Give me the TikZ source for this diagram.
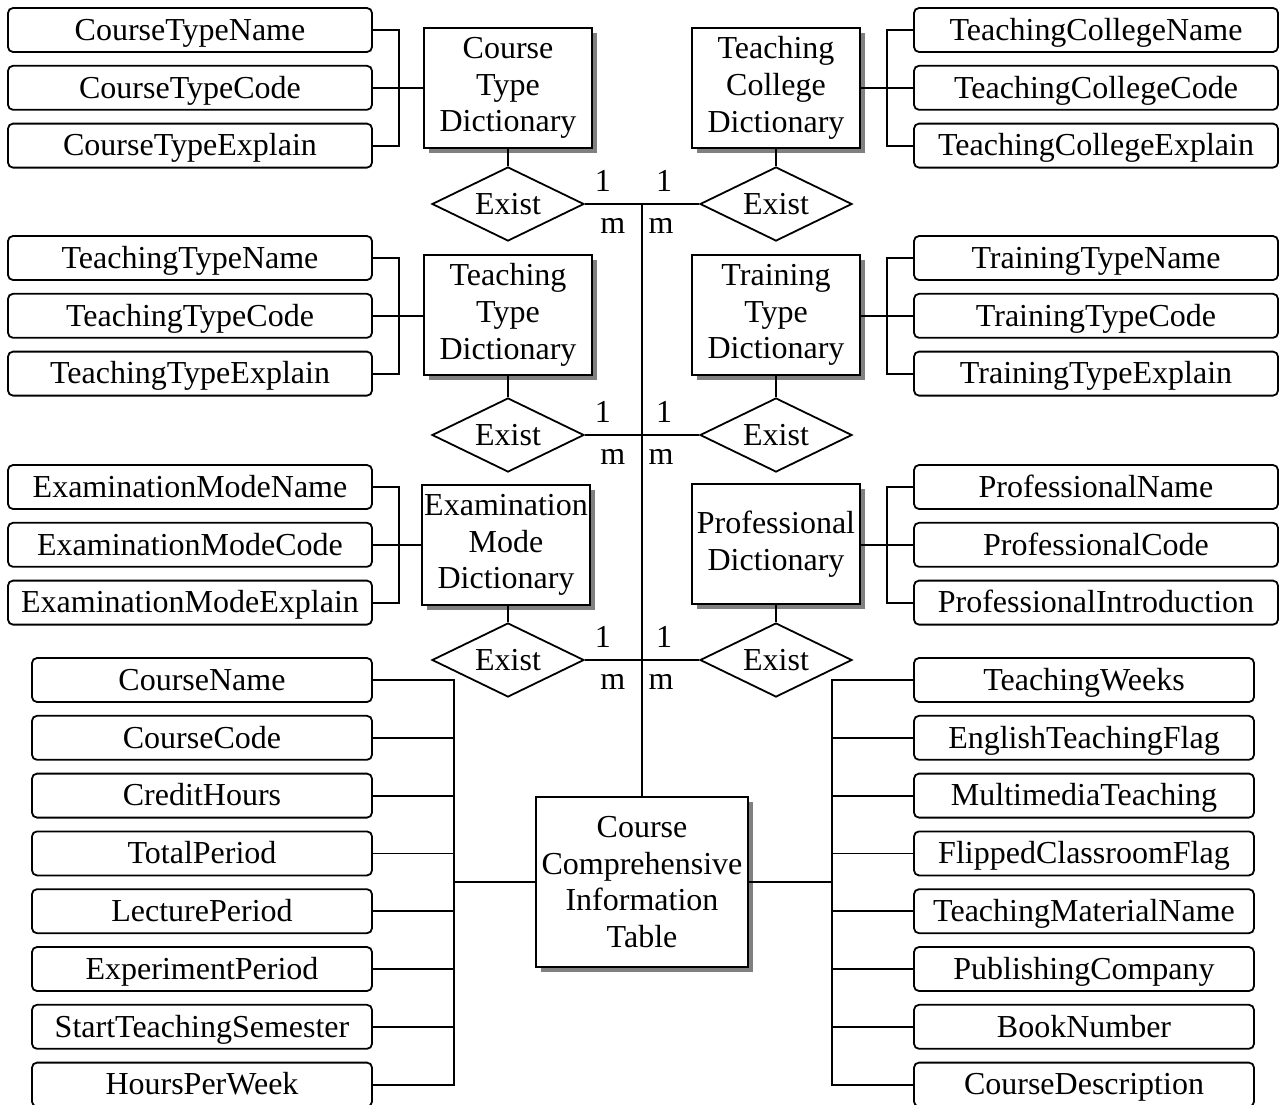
\documentclass[tikz,border=0pt]{standalone}
\usepackage{fontspec}
\setmainfont{Liberation Serif}
\usetikzlibrary{shapes.geometric,shadows,positioning}

\begin{document}
\begin{tikzpicture}[x=0.5pt,y=-0.5pt,line width=0.9pt,node distance=28.9pt,
                    font=\fontsize{16}{18.4}\selectfont,
                    attr/.style={draw,rounded corners=2.5pt,minimum height=22pt,inner sep=0pt,
                                 text height=10.6pt,text depth=0.4pt},
                    wide/.style={attr,minimum width=182pt},
                    narrow/.style={attr,minimum width=170pt},
                    entity/.style={draw,fill=white,align=center,inner sep=0pt,
                                   minimum width=84pt,minimum height=60pt,
                                   drop shadow={shadow xshift=2.5pt,shadow yshift=-2.5pt,
                                                fill=black!50,opacity=1}},
                    rel/.style={draw,diamond,aspect=2,inner sep=0pt,
                                minimum width=76pt,minimum height=37pt}]
  \useasboundingbox (0,0) rectangle (1280,1104);

  % dictionaries and main table
  \node[entity] (CTD) at (508,88)  {Course\\Type\\Dictionary};
  \node[entity] (TCD) at (776,88)  {Teaching\\College\\Dictionary};
  \node[entity] (TTD) at (508,315) {Teaching\\Type\\Dictionary};
  \node[entity] (TRD) at (776,315) {Training\\Type\\Dictionary};
  \node[entity] (EMD) at (506,545) {Examination\\Mode\\Dictionary};
  \node[entity] (PD)  at (776,544) {Professional\\Dictionary};
  \node[entity,minimum width=106pt,minimum height=85pt] (CCI) at (642,882)
        {Course\\Comprehensive\\Information\\Table};

  % relations
  \node[rel] (R1L) at (508,204) {Exist};
  \node[rel] (R1R) at (776,204) {Exist};
  \node[rel] (R2L) at (508,435) {Exist};
  \node[rel] (R2R) at (776,435) {Exist};
  \node[rel] (R3L) at (508,660) {Exist};
  \node[rel] (R3R) at (776,660) {Exist};

  % attributes
  \node[wide] (CTN) at (190,30)      {CourseTypeName};
  \node[wide] (CTC) [below of=CTN]   {CourseTypeCode};
  \node[wide] (CTE) [below of=CTC]   {CourseTypeExplain};
  \node[wide] (TCN) at (1096,30)     {TeachingCollegeName};
  \node[wide] (TCC) [below of=TCN]   {TeachingCollegeCode};
  \node[wide] (TCE) [below of=TCC]   {TeachingCollegeExplain};

  \node[wide] (TTN) at (190,258)     {TeachingTypeName};
  \node[wide] (TTC) [below of=TTN]   {TeachingTypeCode};
  \node[wide] (TTE) [below of=TTC]   {TeachingTypeExplain};
  \node[wide] (TRN) at (1096,258)    {TrainingTypeName};
  \node[wide] (TRC) [below of=TRN]   {TrainingTypeCode};
  \node[wide] (TRE) [below of=TRC]   {TrainingTypeExplain};

  \node[wide] (EMN) at (190,487)     {ExaminationModeName};
  \node[wide] (EMC) [below of=EMN]   {ExaminationModeCode};
  \node[wide] (EME) [below of=EMC]   {ExaminationModeExplain};
  \node[wide] (PN)  at (1096,487)    {ProfessionalName};
  \node[wide] (PC)  [below of=PN]    {ProfessionalCode};
  \node[wide] (PI)  [below of=PC]    {ProfessionalIntroduction};

  \node[narrow] (CN)  at (202,680)     {CourseName};
  \node[narrow] (CC)  [below of=CN]    {CourseCode};
  \node[narrow] (CH)  [below of=CC]    {CreditHours};
  \node[narrow] (TP)  [below of=CH]    {TotalPeriod};
  \node[narrow] (LP)  [below of=TP]    {LecturePeriod};
  \node[narrow] (EP)  [below of=LP]    {ExperimentPeriod};
  \node[narrow] (STS) [below of=EP]    {StartTeachingSemester};
  \node[narrow] (HPW) [below of=STS]   {HoursPerWeek};

  \node[narrow] (TW)  at (1084,680)    {TeachingWeeks};
  \node[narrow] (ETF) [below of=TW]    {EnglishTeachingFlag};
  \node[narrow] (MT)  [below of=ETF]   {MultimediaTeaching};
  \node[narrow] (FCF) [below of=MT]    {FlippedClassroomFlag};
  \node[narrow] (TMN) [below of=FCF]   {TeachingMaterialName};
  \node[narrow] (PCo) [below of=TMN]   {PublishingCompany};
  \node[narrow] (BN)  [below of=PCo]   {BookNumber};
  \node[narrow] (CD)  [below of=BN]    {CourseDescription};

  % attribute brackets, left
  \draw (CTN.east) -| ([xshift=13pt]CTC.east) |- (CTE.east);
  \draw (CTC.east) -- (CTC.east -| CTD.west);
  \draw (TTN.east) -| ([xshift=13pt]TTC.east) |- (TTE.east);
  \draw (TTC.east) -- (TTC.east -| TTD.west);
  \draw (EMN.east) -| ([xshift=13pt]EMC.east) |- (EME.east);
  \draw (EMC.east) -- (EMC.east -| EMD.west);
  % attribute brackets, right
  \draw (TCN.west) -| ([xshift=-13pt]TCC.west) |- (TCE.west);
  \draw (TCC.west) -- (TCC.west -| TCD.east);
  \draw (TRN.west) -| ([xshift=-13pt]TRC.west) |- (TRE.west);
  \draw (TRC.west) -- (TRC.west -| TRD.east);
  \draw (PN.west) -| ([xshift=-13pt]PC.west) |- (PI.west);
  \draw (PC.west) -- (PC.west -| PD.east);

  % table attributes
  \coordinate (LB) at (454,882);
  \coordinate (RB) at (832,882);
  \draw (CN.east) -| (LB) |- (HPW.east);
  \foreach \n in {CC,CH,TP,LP,EP,STS} \draw (\n.east) -- (\n.east -| LB);
  \draw (LB) -- (CCI.west);
  \draw (TW.west) -| (RB) |- (CD.west);
  \foreach \n in {ETF,MT,FCF,TMN,PCo,BN} \draw (\n.west) -- (\n.west -| RB);
  \draw (CCI.east) -- (RB);

  % relations to dictionaries and table
  \draw (CTD) -- (R1L);
  \draw (TCD) -- (R1R);
  \draw (TTD) -- (R2L);
  \draw (TRD) -- (R2R);
  \draw (R3L.north) -- (R3L.north |- EMD.south);
  \draw (PD) -- (R3R);
  \draw (R1L.east) -- (R1R.west);
  \draw (R2L.east) -- (R2R.west);
  \draw (R3L.east) -- (R3R.west);
  \draw (R1L.east -| CCI.north) -- (CCI.north);

  \foreach \i in {1,2,3} {
    \node (OL\i) at ([xshift=9pt,yshift=11.5pt]R\i L.east) {1};
    \node (ML\i) at ([xshift=14pt,yshift=-11pt]R\i L.east) {m};
    \node (OR\i) at ([xshift=-17.5pt,yshift=11.5pt]R\i R.west) {1};
    \node (MR\i) at ([xshift=-19pt,yshift=-11pt]R\i R.west) {m};
  }
\end{tikzpicture}
\end{document}
